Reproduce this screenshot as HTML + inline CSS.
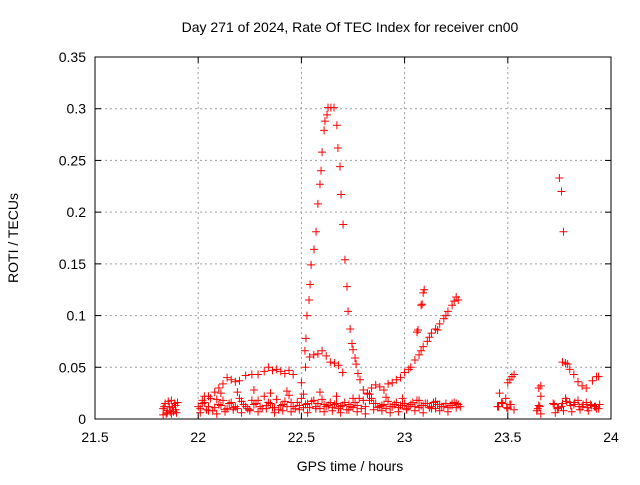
<!DOCTYPE html>
<html><head><meta charset="utf-8"><style>
body{margin:0;background:#fff;}
svg text{font-family:"Liberation Sans",sans-serif;font-size:14px;fill:#000;}
</style></head><body>
<svg id="chart" width="640" height="480">
<text x="350" y="32" text-anchor="middle">Day 271 of 2024, Rate Of TEC Index for receiver cn00</text>
<text x="350" y="471" text-anchor="middle">GPS time / hours</text>
<text x="18" y="238" text-anchor="middle" transform="rotate(-90 18 238)">ROTI / TECUs</text>
<g id="grid"></g><g id="ticks"></g><g id="pts"></g>
<rect x="95" y="57" width="516" height="362" fill="none" stroke="#000" stroke-width="1"/>
</svg>
<script>
const xTicks=[21.5,22,22.5,23,23.5,24];
const xTickLabels=["21.5","22","22.5","23","23.5","24"];
const yTicks=[0,0.05,0.1,0.15,0.2,0.25,0.3,0.35];
const yTickLabels=["0","0.05","0.1","0.15","0.2","0.25","0.3","0.35"];
const spikeX=[22.517,22.522,22.527,22.537,22.542,22.547,22.561,22.571,22.580,22.590,22.595,22.600,22.610,22.614,22.624,22.629,22.643,22.658,22.672,22.677,22.687,22.692,22.702,22.711,22.721,22.726,22.736,22.745,22.750,22.760,22.765,22.774,22.784];
const spikeY=[0.066,0.078,0.1,0.115,0.13,0.149,0.164,0.181,0.208,0.227,0.24,0.258,0.279,0.288,0.294,0.301,0.301,0.301,0.284,0.262,0.244,0.217,0.188,0.154,0.128,0.104,0.087,0.073,0.067,0.059,0.053,0.044,0.038];
const arcX=[23.0,23.02,23.03,23.05,23.07,23.08,23.09,23.11,23.12,23.13,23.15,23.16,23.17,23.19,23.2,23.21,23.23,23.24,23.25,23.26,23.06,23.065,23.08,23.085,23.09,23.095];
const arcY=[0.045,0.048,0.05,0.057,0.062,0.066,0.07,0.075,0.079,0.083,0.087,0.086,0.092,0.097,0.1,0.104,0.11,0.114,0.118,0.115,0.084,0.086,0.11,0.111,0.122,0.125];
const humpX=[22.02,22.05,22.08,22.1,22.12,22.14,22.16,22.18,22.2,22.23,22.26,22.29,22.32,22.34,22.36,22.38,22.4,22.42,22.44,22.46,22.5,22.52,22.54,22.56,22.58,22.6,22.62,22.64,22.66,22.68,22.7,22.8,22.82,22.84,22.86,22.88,22.9,22.92,22.94,22.96,22.98];
const humpY=[0.018,0.022,0.026,0.03,0.034,0.04,0.038,0.036,0.037,0.042,0.043,0.043,0.046,0.05,0.047,0.048,0.046,0.044,0.047,0.043,0.035,0.05,0.06,0.062,0.063,0.066,0.061,0.055,0.054,0.052,0.045,0.028,0.025,0.03,0.033,0.031,0.028,0.034,0.035,0.038,0.04];
const lateX=[23.75,23.76,23.77,23.765,23.78,23.79,23.8,23.82,23.84,23.86,23.88,23.91,23.93,23.94,23.5,23.51,23.52,23.53,23.65,23.66,23.66];
const lateY=[0.233,0.22,0.181,0.055,0.054,0.053,0.048,0.043,0.036,0.032,0.03,0.037,0.041,0.041,0.035,0.038,0.041,0.043,0.03,0.032,0.022];
const baseX=[21.83,21.84,21.85,21.86,21.87,21.88,21.89,21.9,21.83,21.85,21.87,21.89,22.0,22.02,22.04,22.06,22.08,22.1,22.12,22.14,22.16,22.18,22.2,22.22,22.24,22.26,22.28,22.3,22.32,22.34,22.36,22.38,22.4,22.42,22.44,22.46,22.48,22.5,22.52,22.54,22.56,22.58,22.6,22.62,22.64,22.66,22.68,22.7,22.72,22.74,22.76,22.78,22.8,22.82,22.84,22.86,22.88,22.9,22.92,22.94,22.96,22.98,23.0,23.02,23.04,23.06,23.08,23.1,23.12,23.14,23.16,23.18,23.2,23.22,23.24,23.26,22.01,22.05,22.09,22.13,22.17,22.21,22.25,22.29,22.33,22.37,22.41,22.45,22.49,22.53,22.57,22.61,22.65,22.69,22.73,22.77,22.81,22.85,22.89,22.93,22.97,23.01,23.05,23.09,23.13,23.17,23.21,23.25,22.03,22.11,22.19,22.27,22.35,22.43,22.51,22.59,22.67,22.75,22.83,22.91,22.99,23.07,23.15,23.23,23.45,23.47,23.49,23.51,23.53,23.46,23.5,23.64,23.65,23.66,23.72,23.74,23.76,23.78,23.8,23.82,23.84,23.86,23.88,23.9,23.92,23.94,23.73,23.77,23.81,23.85,23.89,23.93];
const baseY=[0.01,0.015,0.008,0.012,0.018,0.007,0.013,0.016,0.004,0.006,0.005,0.009,0.012,0.015,0.009,0.02,0.011,0.014,0.018,0.01,0.016,0.012,0.02,0.014,0.01,0.018,0.015,0.012,0.022,0.016,0.011,0.019,0.013,0.017,0.023,0.012,0.016,0.02,0.014,0.011,0.018,0.015,0.019,0.012,0.016,0.014,0.01,0.013,0.009,0.012,0.016,0.02,0.018,0.024,0.02,0.015,0.012,0.014,0.017,0.012,0.016,0.013,0.015,0.012,0.016,0.018,0.013,0.015,0.011,0.016,0.014,0.012,0.015,0.013,0.016,0.014,0.006,0.008,0.005,0.007,0.009,0.006,0.008,0.007,0.01,0.006,0.008,0.007,0.009,0.006,0.01,0.007,0.008,0.006,0.009,0.007,0.005,0.009,0.008,0.006,0.007,0.009,0.008,0.006,0.01,0.008,0.007,0.011,0.022,0.025,0.026,0.028,0.025,0.027,0.024,0.026,0.022,0.02,0.024,0.021,0.02,0.018,0.017,0.015,0.012,0.016,0.02,0.014,0.009,0.025,0.01,0.008,0.013,0.005,0.015,0.01,0.012,0.02,0.016,0.014,0.018,0.012,0.016,0.014,0.012,0.01,0.006,0.008,0.007,0.009,0.008,0.01];
const base2X=[21.835,21.845,21.855,21.865,21.875,21.885,21.895,22.01,22.03,22.05,22.07,22.09,22.11,22.13,22.15,22.17,22.19,22.21,22.23,22.25,22.27,22.29,22.31,22.33,22.35,22.37,22.39,22.41,22.43,22.45,22.47,22.49,22.51,22.53,22.55,22.57,22.59,22.61,22.63,22.65,22.67,22.69,22.71,22.73,22.75,22.77,22.79,22.81,22.83,22.85,22.87,22.89,22.91,22.93,22.95,22.97,22.99,23.01,23.03,23.05,23.07,23.09,23.11,23.13,23.15,23.17,23.19,23.21,23.23,23.25,23.27,23.455,23.475,23.495,23.515,23.645,23.655,23.725,23.745,23.765,23.785,23.805,23.825,23.845,23.865,23.885,23.905,23.925,23.945];
const base2Y=[0.012,0.005,0.017,0.007,0.011,0.015,0.006,0.01,0.016,0.012,0.008,0.019,0.013,0.009,0.015,0.011,0.01,0.017,0.012,0.009,0.014,0.018,0.01,0.013,0.015,0.011,0.009,0.014,0.012,0.016,0.01,0.013,0.011,0.015,0.017,0.012,0.01,0.014,0.013,0.011,0.015,0.012,0.016,0.014,0.011,0.013,0.01,0.012,0.018,0.015,0.011,0.013,0.01,0.012,0.014,0.011,0.013,0.01,0.014,0.012,0.011,0.013,0.015,0.012,0.01,0.014,0.012,0.011,0.013,0.015,0.012,0.012,0.015,0.011,0.014,0.01,0.012,0.014,0.011,0.015,0.017,0.013,0.016,0.012,0.014,0.011,0.013,0.012,0.014];
const NS='http://www.w3.org/2000/svg';
const X0=95,X1=611,Y0=419,Y1=57;
function sx(v){return X0+(v-21.5)/(24-21.5)*(X1-X0);}
function sy(v){return Y0-v/0.35*(Y0-Y1);}
const grid=document.getElementById('grid'),ticks=document.getElementById('ticks'),pts=document.getElementById('pts');
function mk(tag,attrs,parent){const e=document.createElementNS(NS,tag);for(const k in attrs)e.setAttribute(k,attrs[k]);parent.appendChild(e);return e;}
xTicks.forEach((v,i)=>{const x=sx(v);
 if(i>0&&i<xTicks.length-1){const g=mk('line',{x1:x,x2:x,y1:Y1,y2:Y0,stroke:'#a0a0a0','stroke-dasharray':'2,3'},grid);
 
 }
 mk('line',{x1:x,x2:x,y1:Y0,y2:Y0-6,stroke:'#000'},ticks);mk('line',{x1:x,x2:x,y1:Y1,y2:Y1+6,stroke:'#000'},ticks);
 const t=mk('text',{x:x,y:Y0+23,'text-anchor':'middle'},ticks);t.textContent=xTickLabels[i];
 
 });
yTicks.forEach((v,i)=>{const y=sy(v);
 if(i>0&&i<yTicks.length-1){const g=mk('line',{x1:X0,x2:X1,y1:y,y2:y,stroke:'#a0a0a0','stroke-dasharray':'2,3'},grid);
 
 }
 mk('line',{x1:X0,x2:X0+6,y1:y,y2:y,stroke:'#000'},ticks);mk('line',{x1:X1,x2:X1-6,y1:y,y2:y,stroke:'#000'},ticks);
 const t=mk('text',{x:X0-9,y:y+5,'text-anchor':'end'},ticks);t.textContent=yTickLabels[i];
 
 });
function plot(xs,ys){xs.forEach((xv,i)=>{const x=sx(xv),y=sy(ys[i]);
 const p=mk('path',{d:`M${x-4},${y}H${x+4}M${x},${y-4}V${y+4}`,stroke:'#f00','stroke-width':1},pts);
 
 });}
plot(baseX,baseY);plot(base2X,base2Y);plot(humpX,humpY);plot(arcX,arcY);plot(lateX,lateY);plot(spikeX,spikeY);
</script>
</body></html>
